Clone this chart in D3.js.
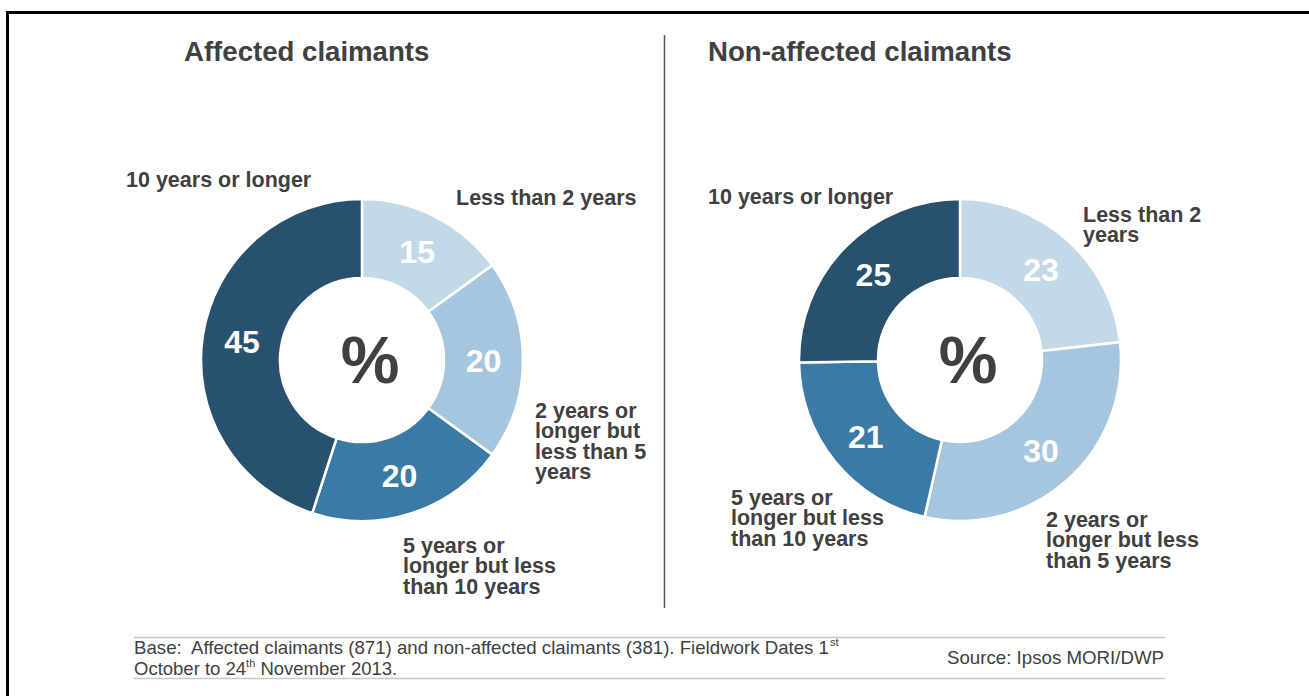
<!DOCTYPE html>
<html><head><meta charset="utf-8">
<script src="https://cdn.jsdelivr.net/npm/d3@7"></script>
<style>
body{margin:0;background:#fff}
svg{display:block}
text{font-family:"Liberation Sans",Arial,Helvetica,sans-serif;white-space:pre}
</style>
</head><body>
<svg id="c" width="1309" height="696"></svg>
<script>
// ---- data ----
const categories = ["Less than 2 years", "2 years or longer but less than 5 years", "5 years or longer but less than 10 years", "10 years or longer"];
const affectedValues = [15, 20, 20, 45];
const nonAffectedValues = [23, 30, 21, 25];
const chartTitles = ["Affected claimants", "Non-affected claimants"];
const affectedLabelLines = [["Less than 2 years"], ["2 years or", "longer but", "less than 5", "years"], ["5 years or", "longer but less", "than 10 years"], ["10 years or longer"]];
const nonAffectedLabelLines = [["Less than 2", "years"], ["2 years or", "longer but less", "than 5 years"], ["5 years or", "longer but less", "than 10 years"], ["10 years or longer"]];
const centreSymbol = "%";
const baseLine1 = "Base:  Affected claimants (871) and non-affected claimants (381). Fieldwork Dates 1";
const baseLine1Sup = "st";
const baseLine2a = "October to 24";
const baseLine2Sup = "th";
const baseLine2b = " November 2013.";
const sourceText = "Source: Ipsos MORI/DWP";

// ---- styling / layout ----
const colors = ["#c3d9e8", "#a5c6de", "#3c7aa6", "#285170"];
const textColor = "#404040";
const outerR = 161, innerR = 82;
const panels = [
  {values: affectedValues, lines: affectedLabelLines, title: chartTitles[0], cx: 362, cy: 360, titleX: 184,
   labelPos: [[456, 205], [535, 418], [403, 553], [126, 187]]},
  {values: nonAffectedValues, lines: nonAffectedLabelLines, title: chartTitles[1], cx: 960, cy: 360, titleX: 708,
   labelPos: [[1083, 222], [1046, 527], [731, 505], [708, 204]]}
];

const svg = d3.select("#c");

// frame
svg.append("path").attr("d", "M7.5,700V12.5H1312").attr("fill", "none").attr("stroke", "#000").attr("stroke-width", 3);

// divider
svg.append("line").attr("x1", 664.5).attr("x2", 664.5).attr("y1", 35).attr("y2", 608)
  .attr("stroke", "#555").attr("stroke-width", 1.5);

const pie = d3.pie().sort(null).value(d => d);
const arc = d3.arc().innerRadius(innerR).outerRadius(outerR);

panels.forEach(p => {
  const g = svg.append("g").attr("transform", `translate(${p.cx},${p.cy})`);
  const arcs = pie(p.values);
  g.selectAll("path.slice").data(arcs).join("path")
    .attr("class", "slice")
    .attr("d", arc)
    .attr("fill", (d, i) => colors[i])
    .attr("stroke", "#fff").attr("stroke-width", 2.5).attr("stroke-linejoin", "miter");
  g.selectAll("text.val").data(arcs).join("text")
    .attr("class", "val")
    .attr("transform", d => `translate(${arc.centroid(d)})`)
    .attr("text-anchor", "middle").attr("dy", "0.36em")
    .attr("fill", "#fff").attr("font-weight", "bold").attr("font-size", 32)
    .text(d => d.data);
  g.append("text").attr("x", 8).attr("y", 23).attr("text-anchor", "middle")
    .attr("fill", textColor).attr("font-weight", "bold").attr("font-size", 66)
    .text(centreSymbol);

  svg.append("text").attr("x", p.titleX).attr("y", 61)
    .attr("fill", textColor).attr("font-weight", "bold").attr("font-size", 27.6)
    .text(p.title);

  p.lines.forEach((lines, i) => {
    const t = svg.append("text").attr("x", p.labelPos[i][0]).attr("y", p.labelPos[i][1])
      .attr("fill", textColor).attr("font-weight", "bold").attr("font-size", 21.5)
      .attr("data-category", categories[i]);
    lines.forEach((ln, j) => {
      t.append("tspan").attr("x", p.labelPos[i][0]).attr("dy", j === 0 ? 0 : 20.4).text(ln);
    });
  });
});

// footer
[637.5, 678.5].forEach(y => {
  svg.append("line").attr("x1", 134).attr("x2", 1165).attr("y1", y).attr("y2", y)
    .attr("stroke", "#c8c8c8").attr("stroke-width", 1.5);
});
const fs = 18.5;
svg.append("text").attr("x", 134).attr("y", 654).attr("fill", textColor).attr("font-size", fs)
  .attr("textLength", 695).attr("lengthAdjust", "spacingAndGlyphs").text(baseLine1);
svg.append("text").attr("x", 830).attr("y", 646).attr("fill", textColor).attr("font-size", 11).text(baseLine1Sup);
const l2 = svg.append("text").attr("x", 134).attr("y", 675).attr("fill", textColor).attr("font-size", fs);
l2.append("tspan").text(baseLine2a);
l2.append("tspan").attr("font-size", 11).attr("dy", -8).text(baseLine2Sup);
l2.append("tspan").attr("dy", 8).text(baseLine2b);
svg.append("text").attr("x", 947).attr("y", 664).attr("fill", textColor).attr("font-size", fs)
  .attr("textLength", 217).attr("lengthAdjust", "spacingAndGlyphs").text(sourceText);
</script>
</body></html>
